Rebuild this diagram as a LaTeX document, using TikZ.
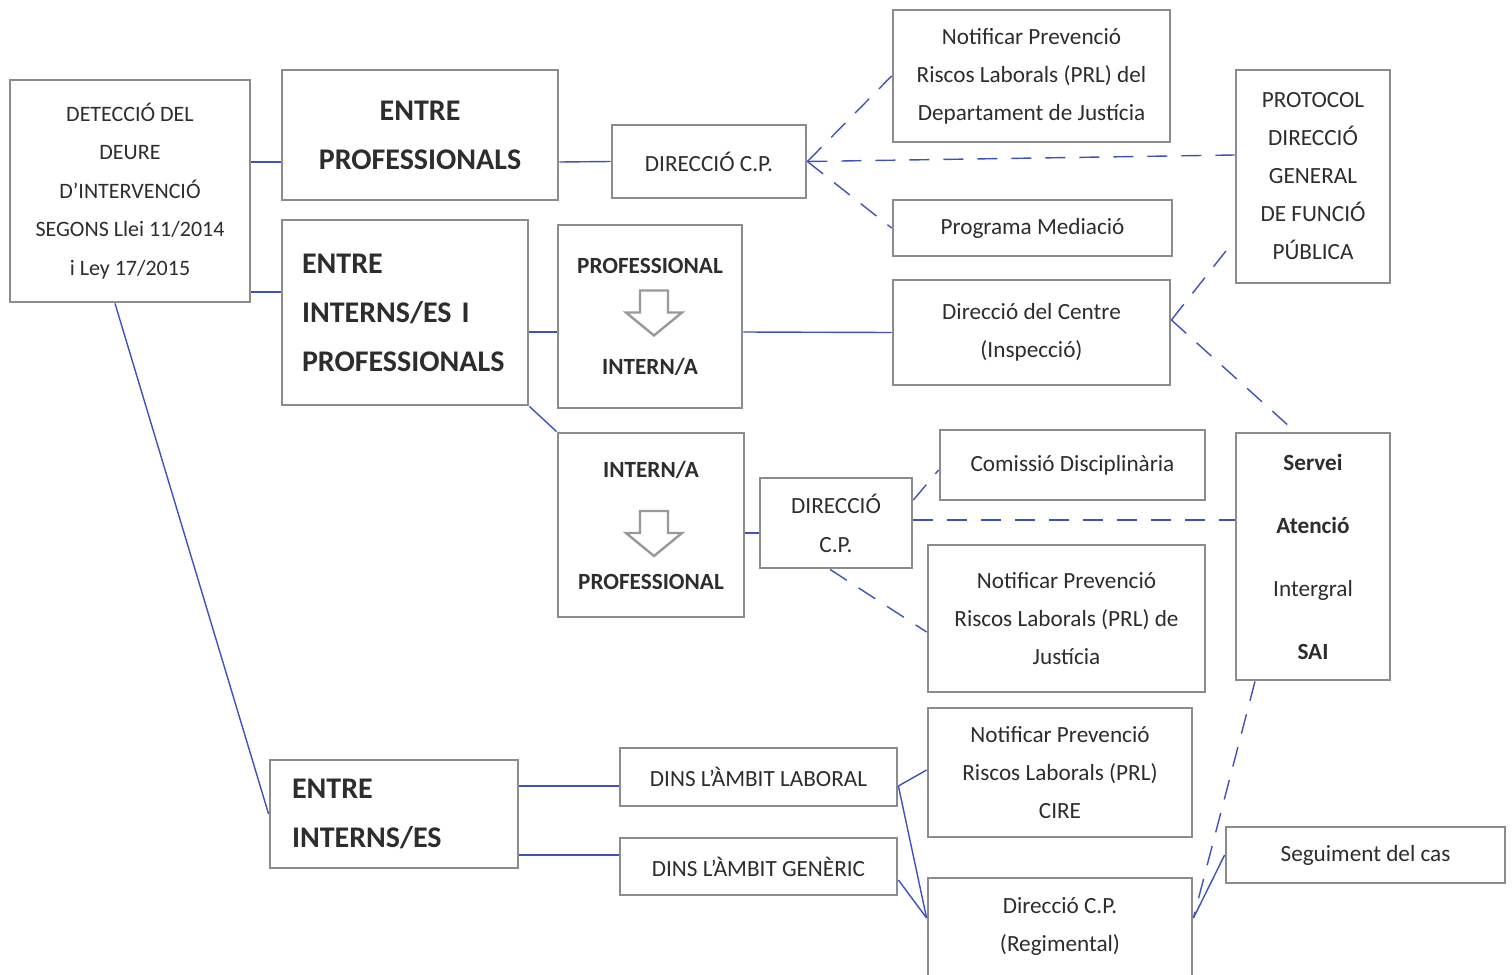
\documentclass[tikz,border=0pt]{standalone}
\usepackage{fontspec}
\setmainfont{Carlito}
\usepackage{tikz}
\usetikzlibrary{calc,positioning}
\definecolor{linkblue}{RGB}{62,82,190}
\definecolor{boxgray}{RGB}{140,140,140}
\definecolor{inkgray}{RGB}{45,45,45}
\newcommand\DrawDownArrow[1]{% hollow arrow inside a box
  \draw[hollow arrow,shift={(#1)}] (-14,-22) -- (14,-22) -- (14,0) -- (28,0)
    -- (0,23) -- (-28,0) -- (-14,0) -- cycle;
}
\tikzset{%
  box/.style={draw=boxgray, line width=1.4pt, align=center, inner sep=3pt,
    text=inkgray, font=\fontsize{11.6}{19}\selectfont},
  bigbox/.style={box, font=\bfseries\fontsize{15}{24.5}\selectfont},
  leftbox/.style={bigbox, align=left, inner xsep=10pt, text width=#1},
  link/.style={draw=linkblue, line width=0.7pt},
  dashlink/.style={link, dash pattern=on 10pt off 7pt},
  hollow arrow/.style={draw=gray!80, line width=1.2pt, fill=white}
}

\begin{document}
\begin{tikzpicture}[x=0.5pt,y=-0.5pt] % one unit = one pixel of the scan
  \fill[white] (0,0) rectangle (1512,975);
  \useasboundingbox (0,0) rectangle (1512,975);

  % left column
  \node[box, minimum width=120pt, minimum height=111pt,
    font=\fontsize{11}{19.25}\selectfont] (det) at (130,191)
    {DETECCIÓ DEL\\DEURE\\D’INTERVENCIÓ\\SEGONS Llei 11/2014\\i Ley 17/2015};
  \node[bigbox, minimum width=138pt, minimum height=65pt] (entprof) at (420,135)
    {ENTRE\\PROFESSIONALS};
  \node[leftbox=103pt, minimum height=92.5pt] (entint) at (405,312.5)
    {ENTRE\\INTERNS/ES I\\PROFESSIONALS};
  \node[leftbox=102pt, inner xsep=11pt, minimum height=54pt] (entint2) at (394,814)
    {ENTRE\\INTERNS/ES};

  % middle
  \node[box, minimum width=97pt, minimum height=36.5pt] (dir1) at (709,161.5)
    {DIRECCIÓ C.P.};
  \node[box, font=\bfseries\fontsize{11.6}{19}\selectfont,
    minimum width=92pt, minimum height=91.5pt] (profint) at (650,316.5)
    {PROFESSIONAL\\[31.5pt]INTERN/A};
  \node[box, font=\bfseries\fontsize{11.6}{19}\selectfont,
    minimum width=93pt, minimum height=92pt] (intprof) at (651,525)
    {INTERN/A\\[37pt]PROFESSIONAL};
  \node[box, font=\fontsize{11.6}{19.5}\selectfont,
    minimum width=76pt, minimum height=45pt] (dir2) at (836,523)
    {DIRECCIÓ\\C.P.};
  \node[box, minimum width=138.5pt, minimum height=29pt] (laboral) at (758.5,777)
    {DINS L’ÀMBIT LABORAL};
  \node[box, minimum width=138.5pt, minimum height=28.5pt] (generic) at (758.5,866.5)
    {DINS L’ÀMBIT GENÈRIC};
  \DrawDownArrow{$(profint.center)+(4,-4)$}
  \DrawDownArrow{$(intprof.center)+(3,8)$}

  % right side
  \node[box, minimum width=138.5pt, minimum height=66pt] (notif1) at (1031.5,76)
    {Notificar Prevenció\\Riscos Laborals (PRL) del\\Departament de Justícia};
  \node[box, minimum width=139.5pt, minimum height=28pt] (mediacio) at (1032.5,228)
    {Programa Mediació};
  \node[box, minimum width=138.5pt, minimum height=52.5pt] (dircentre) at (1031.5,332.5)
    {Direcció del Centre\\(Inspecció)};
  \node[box, minimum width=132.5pt, minimum height=35pt] (comissio) at (1072.5,465)
    {Comissió Disciplinària};
  \node[box, minimum width=138.5pt, minimum height=73.5pt] (notif2) at (1066.5,618.5)
    {Notificar Prevenció\\Riscos Laborals (PRL) de\\Justícia};
  \node[box, minimum width=132pt, minimum height=64.5pt] (notif3) at (1060,772.5)
    {Notificar Prevenció\\Riscos Laborals (PRL)\\CIRE};
  \node[box, minimum width=132pt, minimum height=49pt] (regimental) at (1060,927)
    {Direcció C.P.\\(Regimental)};
  \node[box, minimum width=77pt, minimum height=106.5pt] (protocol) at (1313,176.5)
    {PROTOCOL\\DIRECCIÓ\\GENERAL\\DE FUNCIÓ\\PÚBLICA};
  \node[box, font=\fontsize{11.6}{31.5}\selectfont,
    minimum width=77pt, minimum height=123.5pt] (sai) at (1313,556.5)
    {\textbf{Servei}\\\textbf{Atenció}\\Intergral\\\textbf{SAI}};
  \node[box, minimum width=139.5pt, minimum height=28pt] (seguiment) at (1365.5,855)
    {Seguiment del cas};

  % solid links
  \draw[link] ([yshift=14.5pt]det.east) -- ([yshift=-13.5pt]entprof.west);
  \draw[link] ([yshift=-50.5pt]det.east) -- ([yshift=10.25pt]entint.west);
  \draw[link] ([xshift=-7.5pt]det.south) -- (entint2.west);
  \draw[link] ([yshift=-13.5pt]entprof.east) -- (dir1.west);
  \draw[link] ([yshift=-9.75pt]entint.east) -- ([yshift=-7.75pt]profint.west);
  \draw[link] (entint.south east) -- (intprof.north west);
  \draw[link] ([yshift=-7.75pt]profint.east) -- (dircentre.west);
  \draw[link] ([yshift=-4pt]intprof.east) -- ([yshift=-5pt]dir2.west);
  \draw[link] ([yshift=14pt]entint2.east) -- ([yshift=-4.5pt]laboral.west);
  \draw[link] ([yshift=-20.5pt]entint2.east) -- ([yshift=5.75pt]generic.west);
  \draw[link] ([yshift=-4.5pt]laboral.east) -- ([yshift=1.25pt]notif3.west);
  \draw[link] ([yshift=-4.5pt]laboral.east) -- ([yshift=4.5pt]regimental.west);
  \draw[link] ([yshift=-6.75pt]generic.east) -- ([yshift=4.5pt]regimental.west);
  \draw[link] ([yshift=4.5pt]regimental.east) -- (seguiment.west);

  % dashed links
  \draw[dashlink] (dir1.east) -- (notif1.west);
  \draw[dashlink] (dir1.east) -- ([yshift=10.75pt]protocol.west);
  \draw[dashlink] (dir1.east) -- (mediacio.west);
  \draw[dashlink] ([yshift=6.25pt]dircentre.east) -- ([yshift=-31.75pt]protocol.west);
  \draw[dashlink] ([yshift=6.25pt]dircentre.east) -- ([xshift=-9pt]sai.north);
  \draw[dashlink] ([yshift=11.5pt]dir2.east) -- ([yshift=-2.5pt]comissio.west);
  \draw[dashlink] ([yshift=1.5pt]dir2.east) -- ([yshift=18.25pt]sai.west);
  \draw[dashlink] ([xshift=-3pt]dir2.south) -- ([yshift=-6.75pt]notif2.west);
  \draw[dashlink] ([xshift=-29pt]sai.south) -- ([yshift=4.5pt]regimental.east);
\end{tikzpicture}
\end{document}
